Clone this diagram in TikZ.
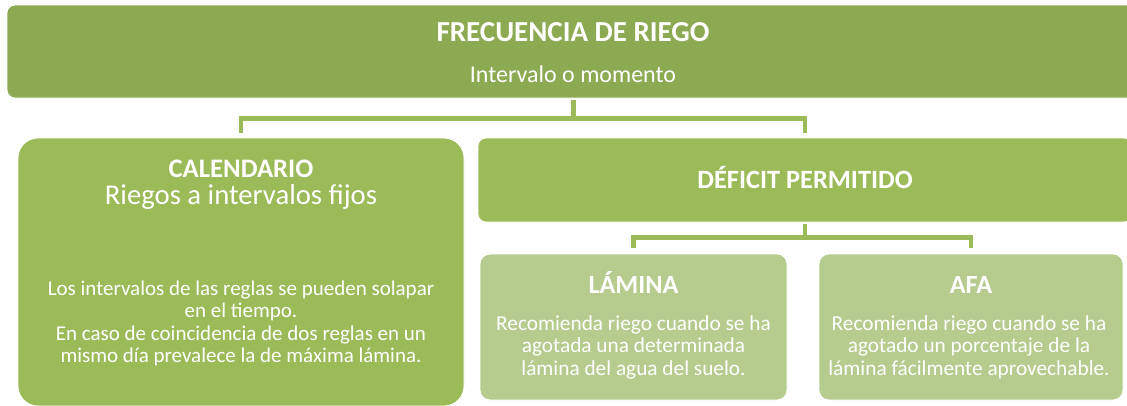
\documentclass[tikz,border=0pt]{standalone}
\usepackage{fontspec}
\setmainfont{Carlito}
\definecolor{verdeOscuro}{HTML}{8CAA52}
\definecolor{verdeMedio}{HTML}{9BBB59}
\definecolor{verdeClaro}{HTML}{B5CC8E}
\tikzset{
  caja/.style={fill=#1, draw=white, line width=0.8pt, inner sep=0pt},
  conector/.style={draw=verdeMedio, line width=4.5pt},
  textoblanco/.style={text=white, anchor=base, align=center, inner sep=0pt},
}
\begin{document}
\begin{tikzpicture}[x=1pt, y=-1pt]
    \useasboundingbox (0,0) rectangle (1127,405);

    % Cajas de los tres niveles
    \node[caja=verdeOscuro, rounded corners=8pt, minimum width=1133pt, minimum height=93pt] (frecuencia) at (573.5,51.5) {};
    \node[caja=verdeMedio, rounded corners=20pt, minimum width=446pt, minimum height=268pt] (calendario) at (241,272) {};
    \node[caja=verdeMedio, rounded corners=8pt, minimum width=654pt, minimum height=84pt] (deficit) at (805,180) {};
    \node[caja=verdeClaro, rounded corners=10pt, minimum width=307pt, minimum height=146pt] (lamina) at (633.5,327) {};
    \node[caja=verdeClaro, rounded corners=10pt, minimum width=304pt, minimum height=146pt] (afa) at (971,327) {};

    % Conectores en forma de llave
    \draw[conector, shorten <=2pt] (frecuencia.south) -- ++(0,20) coordinate (bus1);
    \draw[conector, shorten <=5pt, shorten >=5pt] (calendario.north) |- (bus1) -| (deficit.north);
    \draw[conector, shorten <=2pt] (deficit.south) -- ++(0,15) coordinate (bus2);
    \draw[conector, shorten <=6pt, shorten >=6pt] (lamina.north) |- (bus2) -| (afa.north);

    % Textos (en varias lineas el ancla base es la ultima linea)
    \node[textoblanco, font=\bfseries\fontsize{29}{32}\selectfont] (tituloFrec) at (573,41) {FRECUENCIA DE RIEGO};
    \node[textoblanco, font=\fontsize{24}{28}\selectfont] (subFrec) at (573,82) {Intervalo o momento};

    \node[textoblanco, font=\bfseries\fontsize{26.7}{30}\selectfont] (tituloCal) at (241,177) {CALENDARIO};
    \node[textoblanco, font=\fontsize{28.7}{32}\selectfont] (subCal) at (241,204) {Riegos a intervalos fijos};
    \node[textoblanco, font=\fontsize{21}{22}\selectfont] (textoCal) at (241,362)
      {Los intervalos de las reglas se pueden solapar\\ en el tiempo.\\[1pt]
       En caso de coincidencia de dos reglas en un\\ mismo día prevalece la de máxima lámina.};

    \node[textoblanco, font=\bfseries\fontsize{26.4}{30}\selectfont] (tituloDef) at (805,188) {DÉFICIT PERMITIDO};

    \node[textoblanco, font=\bfseries\fontsize{26.2}{30}\selectfont] (tituloLam) at (633.5,293) {LÁMINA};
    \node[textoblanco, font=\fontsize{21.3}{22.5}\selectfont] (textoLam) at (633.5,375)
      {Recomienda riego cuando se ha\\ agotada una determinada\\ lámina del agua del suelo.};

    \node[textoblanco, font=\bfseries\fontsize{26.2}{30}\selectfont] (tituloAfa) at (971,293) {AFA};
    \node[textoblanco, font=\fontsize{21.3}{22.5}\selectfont] (textoAfa) at (969,375)
      {Recomienda riego cuando se ha\\ agotado un porcentaje de la\\ lámina fácilmente aprovechable.};
  \end{tikzpicture}
\end{document}
